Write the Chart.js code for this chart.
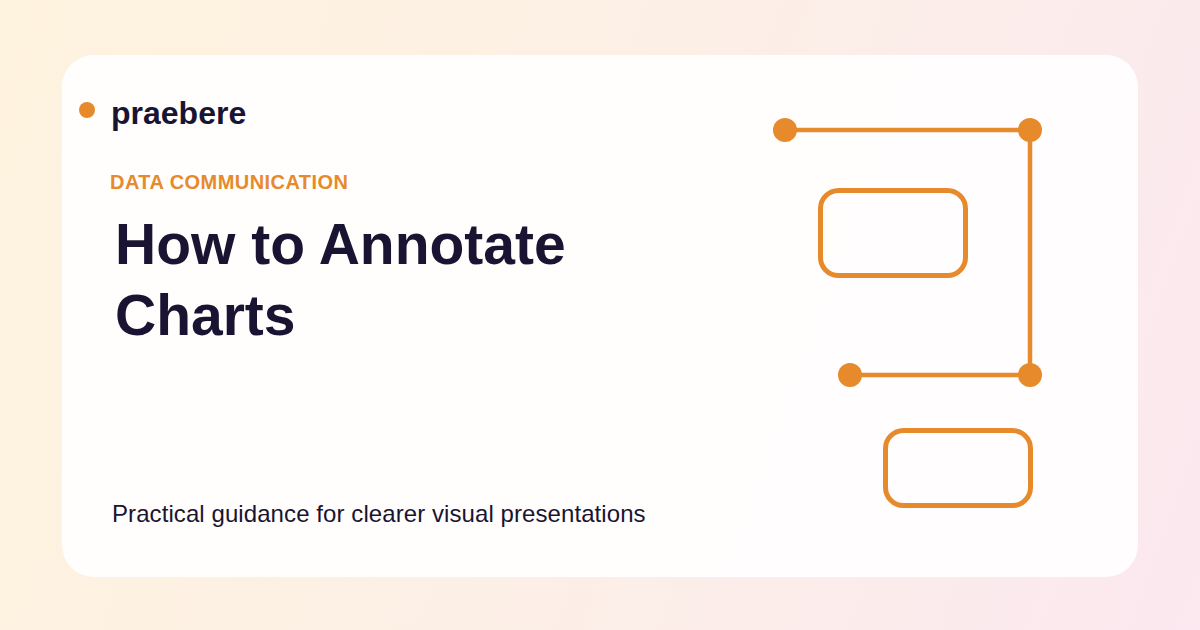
<!DOCTYPE html>
<html>
<head>
<meta charset="utf-8">
<script src="https://cdn.jsdelivr.net/npm/chart.js@4/dist/chart.umd.min.js"></script>
<style>
  html, body {
    margin: 0;
    padding: 0;
  }
  body {
    width: 1200px;
    height: 630px;
    position: relative;
    overflow: hidden;
    font-family: "Liberation Sans", Arial, sans-serif;
    background: linear-gradient(110deg, #fef3de 0%, #fcefe6 50%, #fbe8f0 100%);
  }
  .card {
    position: absolute;
    left: 62px;
    top: 55px;
    width: 1076px;
    height: 522px;
    border-radius: 32px;
    background: rgba(255, 255, 255, 0.9);
  }
  .brand-dot {
    position: absolute;
    left: 79px;
    top: 102px;
    width: 16px;
    height: 16px;
    border-radius: 50%;
    background: #e68a2b;
  }
  .brand {
    position: absolute;
    left: 111px;
    top: 97px;
    font-size: 32px;
    line-height: 32px;
    font-weight: 700;
    color: #1a1433;
  }
  .kicker {
    position: absolute;
    left: 110px;
    top: 172px;
    font-size: 20px;
    line-height: 20px;
    letter-spacing: 0.45px;
    font-weight: 700;
    color: #e68a2b;
  }
  .title {
    position: absolute;
    left: 115px;
    top: 209px;
    margin: 0;
    font-size: 57px;
    line-height: 71px;
    font-weight: 700;
    color: #1a1433;
  }
  .subtitle {
    position: absolute;
    left: 112px;
    top: 502px;
    font-size: 24px;
    line-height: 24px;
    letter-spacing: 0.08px;
    color: #1a1433;
  }
  #diagramBox {
    position: absolute;
    left: 740px;
    top: 90px;
    width: 340px;
    height: 450px;
  }
</style>
</head>
<body>
<div class="card"></div>
<div class="brand-dot"></div>
<div class="brand">praebere</div>
<div class="kicker">DATA COMMUNICATION</div>
<h1 class="title">How to Annotate<br>Charts</h1>
<div class="subtitle">Practical guidance for clearer visual presentations</div>
<div id="diagramBox"><canvas id="diagram"></canvas></div>

<script>
// connector path: node positions in diagram units
const nodeX = [45, 290, 290, 110];
const nodeY = [40, 40, 285, 285];

// annotation boxes
const boxLeft = [80.5, 145.5];
const boxRight = [225.5, 290.5];
const boxTop = [100.5, 340.5];
const boxBottom = [185.5, 415.5];

const accent = "#e68a2b";

const boxPlugin = {
  id: "annotationBoxes",
  afterDatasetsDraw(chart) {
    const ctx = chart.ctx;
    const xs = chart.scales.x;
    const ys = chart.scales.y;

    ctx.save();
    ctx.strokeStyle = accent;
    ctx.lineWidth = 5;

    boxLeft.forEach((left, i) => {
      const x0 = xs.getPixelForValue(left);
      const x1 = xs.getPixelForValue(boxRight[i]);
      const y0 = ys.getPixelForValue(boxTop[i]);
      const y1 = ys.getPixelForValue(boxBottom[i]);

      ctx.beginPath();
      ctx.roundRect(x0, y0, x1 - x0, y1 - y0, 18);
      ctx.stroke();
    });

    ctx.restore();
  }
};

new Chart(document.getElementById("diagram"), {
  type: "scatter",
  data: {
    datasets: [
      {
        label: "connector",
        data: nodeX.map((x, i) => ({ x: x, y: nodeY[i] })),
        showLine: true,
        borderColor: accent,
        borderWidth: 4.5,
        pointRadius: 12,
        pointBackgroundColor: accent,
        pointBorderWidth: 0,
        clip: false
      }
    ]
  },
  options: {
    responsive: true,
    maintainAspectRatio: false,
    animation: false,
    layout: { padding: 0, autoPadding: false },
    plugins: {
      legend: { display: false },
      tooltip: { enabled: false }
    },
    scales: {
      x: { type: "linear", min: 0, max: 340, display: false },
      y: { type: "linear", min: 0, max: 450, reverse: true, display: false }
    }
  },
  plugins: [boxPlugin]
});
</script>
</body>
</html>
